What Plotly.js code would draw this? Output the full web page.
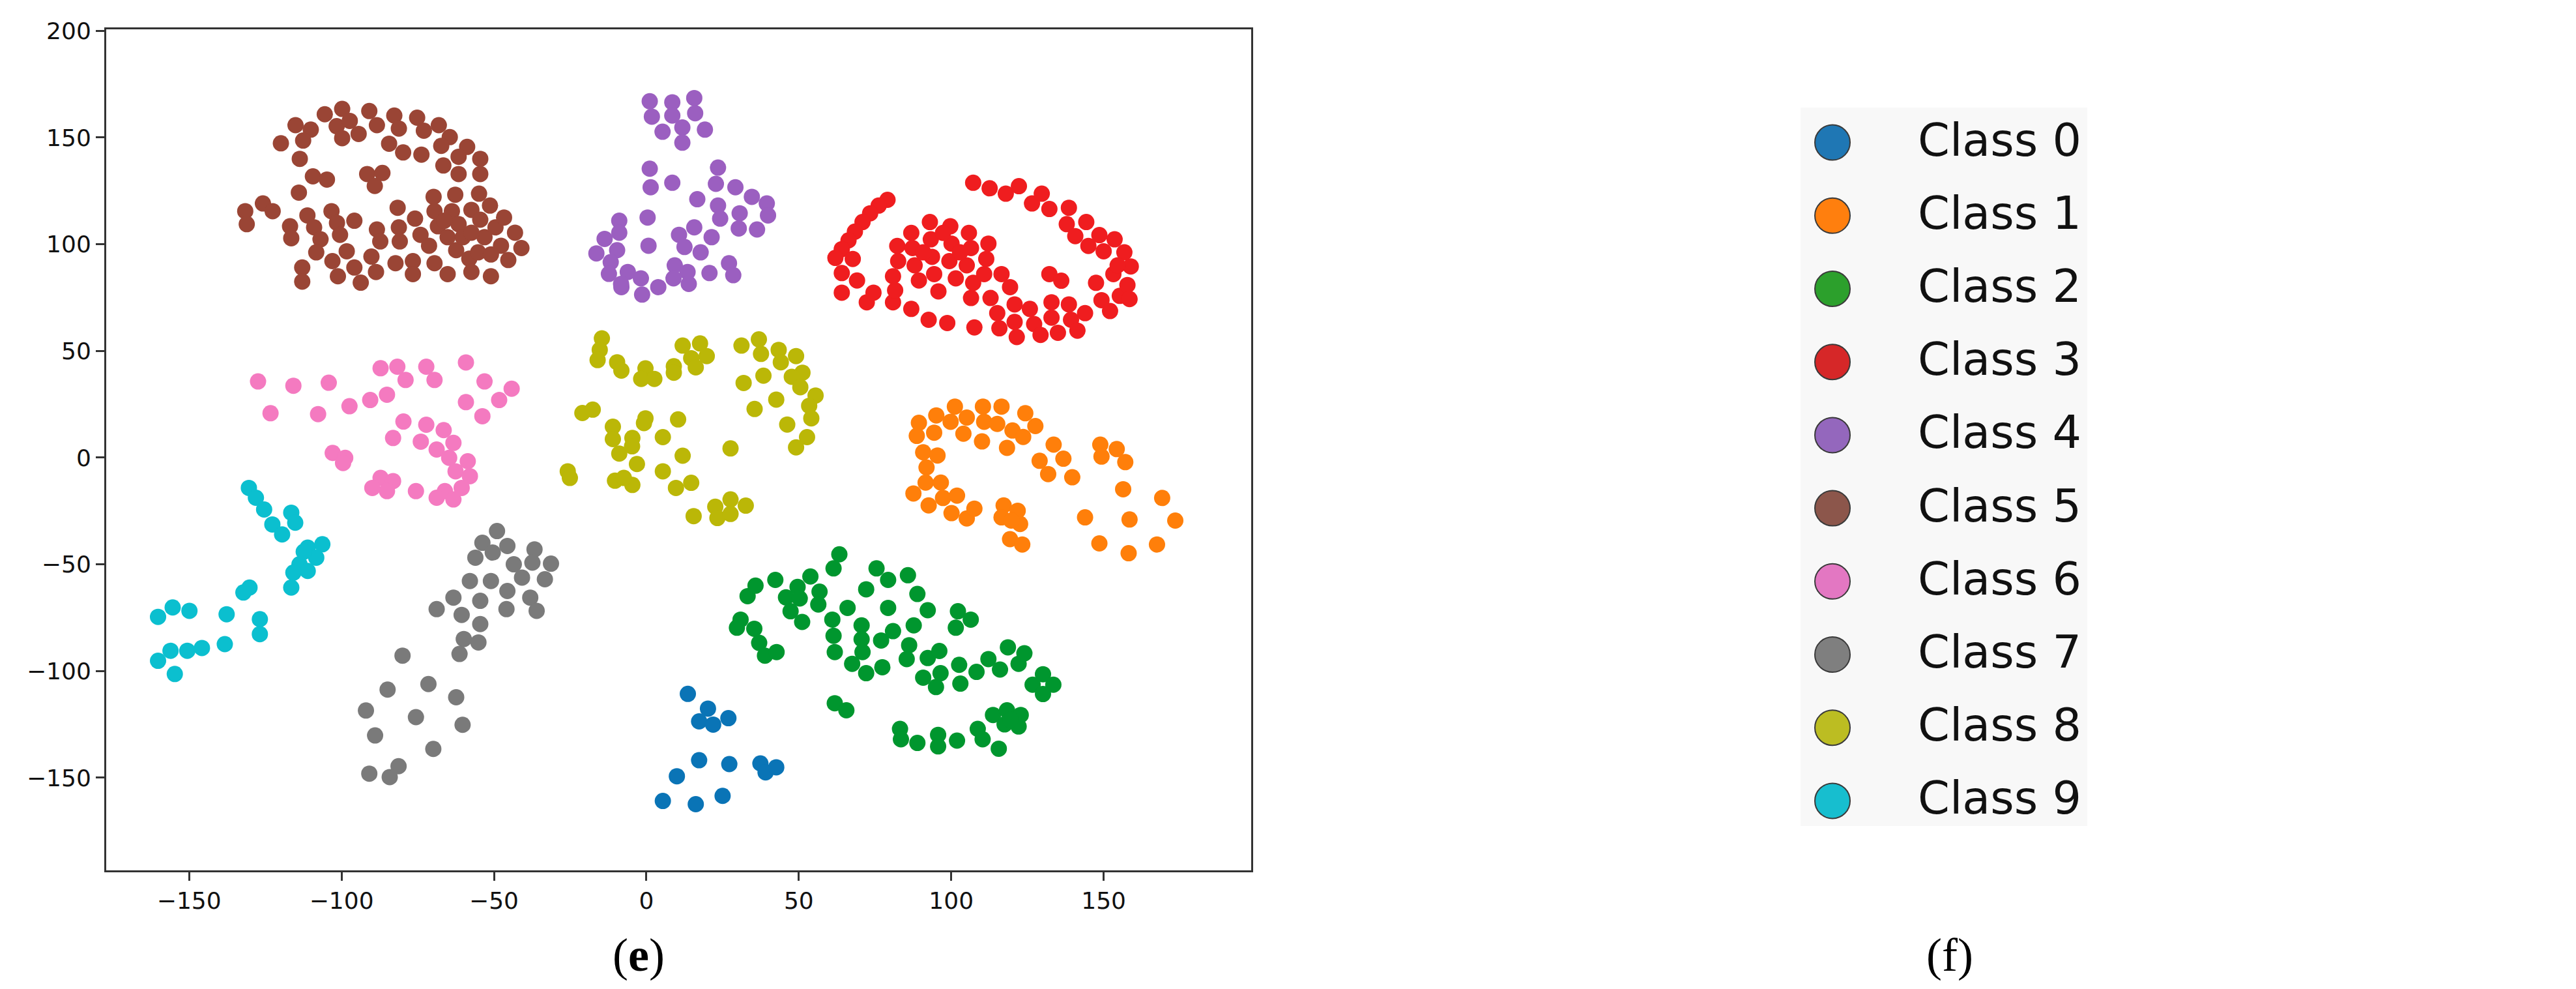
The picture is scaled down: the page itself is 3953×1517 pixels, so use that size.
<!DOCTYPE html>
<html><head><meta charset="utf-8">
<script src="https://cdn.plot.ly/plotly-3.0.1.min.js"></script>
<style>html,body{margin:0;padding:0;background:#fff;} #chart{width:3953px;height:1517px;}</style>
</head><body><div id="chart"></div>
<script>
const classNames = ['Class 0','Class 1','Class 2','Class 3','Class 4','Class 5','Class 6','Class 7','Class 8','Class 9'];
const xTicks = [-150,-100,-50,0,50,100,150];
const yTicks = [-150,-100,-50,0,50,100,150,200];
const panelLabels = ['(<b>e</b>)','(f)'];

const class0 = [[13.6,-110.7],[20.2,-117.6],[17.3,-123.6],[21.9,-125.1],[26.9,-122.1],[17.3,-141.8],[27.2,-143.6],[10.0,-149.3],[5.4,-160.9],[16.2,-162.4],[25.0,-158.5],[37.4,-143.3],[39.1,-147.5],[42.6,-145.1]];
const class1 = [[89.4,16.3],[88.7,10.2],[95.1,19.8],[94.4,11.7],[101.2,23.9],[99.8,16.8],[104.0,11.2],[105.1,18.8],[110.4,23.9],[110.8,16.8],[110.1,7.6],[116.5,23.9],[115.1,15.8],[118.3,4.6],[120.1,12.7],[124.3,20.8],[123.6,9.7],[127.6,14.8],[90.8,2.5],[95.5,1.0],[91.9,-4.6],[87.6,-16.8],[91.6,-11.7],[92.6,-22.4],[96.6,-11.7],[97.3,-18.9],[101.9,-17.8],[100.1,-26.0],[105.1,-28.5],[107.6,-23.9],[117.2,-22.4],[116.5,-28.0],[121.8,-24.9],[122.6,-31.1],[119.3,-38.2],[123.3,-40.7],[119.7,-29.5],[133.6,6.1],[129.0,-1.5],[131.8,-7.7],[136.8,-0.5],[139.7,-9.2],[148.9,6.1],[149.3,0.5],[154.3,4.0],[157.1,-2.1],[156.4,-14.8],[169.2,-18.9],[143.9,-28.0],[158.5,-29.0],[173.5,-29.5],[148.6,-40.2],[158.2,-44.8],[167.5,-40.7]];
const class2 = [[63.3,-45.3],[61.4,-51.9],[33.2,-64.9],[35.8,-60.0],[42.3,-57.3],[45.8,-65.5],[49.6,-60.6],[53.8,-55.7],[50.3,-66.0],[56.8,-62.8],[56.4,-68.8],[47.3,-72.0],[51.1,-77.0],[30.9,-75.9],[29.7,-79.7],[35.4,-80.2],[37.0,-86.8],[38.9,-92.8],[42.7,-91.1],[61.0,-75.9],[61.4,-83.5],[61.8,-91.1],[66.0,-70.4],[72.1,-61.7],[75.5,-51.9],[79.3,-57.3],[85.8,-55.1],[88.9,-63.9],[92.3,-71.5],[79.3,-70.4],[70.6,-78.6],[70.6,-85.1],[70.9,-91.1],[67.5,-96.6],[72.1,-101.0],[77.4,-98.2],[77.0,-85.7],[80.9,-81.3],[87.7,-78.6],[86.2,-87.9],[85.4,-94.4],[92.3,-93.9],[96.1,-90.6],[90.8,-103.1],[95.0,-107.5],[96.5,-101.0],[102.6,-97.1],[103.0,-105.9],[108.3,-100.4],[112.2,-94.4],[116.0,-99.3],[118.6,-88.9],[122.1,-96.6],[124.0,-91.7],[102.2,-72.0],[106.4,-75.9],[101.5,-79.7],[126.7,-106.4],[130.1,-101.5],[133.5,-106.4],[130.1,-110.8],[61.8,-115.1],[65.6,-118.4],[83.2,-127.1],[83.5,-132.0],[88.9,-133.7],[95.7,-129.9],[95.7,-135.3],[101.9,-132.6],[108.7,-127.1],[110.3,-132.0],[115.6,-136.4],[113.7,-120.6],[118.3,-118.4],[117.5,-125.0],[122.8,-120.6],[122.1,-126.0],[119.4,-122.8]];
const class3 = [[79.1,120.8],[76.2,118.1],[73.4,114.5],[70.9,110.4],[68.4,105.9],[66.3,101.8],[64.1,97.7],[62.0,93.6],[67.7,93.1],[64.1,86.5],[64.1,77.3],[69.1,83.0],[72.3,72.8],[74.5,77.3],[80.9,72.8],[86.9,69.7],[92.6,64.6],[98.7,63.1],[107.6,61.0],[82.3,99.2],[82.6,92.1],[80.9,85.0],[81.6,78.4],[86.9,105.3],[87.3,98.2],[88.0,90.1],[89.4,83.0],[93.0,110.4],[93.3,102.3],[93.7,94.1],[94.4,86.0],[95.8,77.9],[99.7,108.4],[100.1,100.3],[99.4,92.1],[101.5,84.0],[105.8,105.3],[106.5,98.2],[105.1,90.1],[107.2,81.9],[106.5,74.8],[112.2,100.3],[111.5,93.1],[110.8,86.0],[116.5,86.0],[97.3,105.3],[90.8,96.2],[102.9,96.2],[112.9,74.8],[115.1,67.7],[115.8,60.6],[119.3,79.9],[120.8,71.8],[120.8,63.6],[121.5,56.5],[125.8,69.7],[127.2,62.6],[129.3,57.5],[132.9,72.8],[132.9,65.6],[135.0,58.5],[138.6,71.8],[139.3,64.6],[141.4,59.5],[143.9,67.7],[147.5,81.9],[149.3,73.8],[152.1,68.7],[153.2,86.0],[155.3,75.8],[157.8,80.9],[158.5,74.3],[132.2,86.0],[136.1,82.9],[107.2,128.8],[112.6,126.2],[117.9,123.7],[122.2,127.2],[126.5,119.1],[129.7,123.7],[132.2,116.5],[138.6,117.1],[137.9,109.4],[140.7,103.8],[144.3,110.4],[145.0,99.2],[148.6,104.3],[150.0,96.7],[153.6,102.3],[156.8,96.2],[158.9,89.6],[154.6,90.1]];
const class4 = [[1.1,167.0],[1.8,159.8],[5.3,152.7],[8.5,166.5],[8.5,160.3],[11.8,154.7],[11.8,147.6],[15.7,168.5],[16.0,161.4],[19.2,153.7],[1.1,135.4],[1.4,126.7],[8.5,128.8],[23.5,135.9],[22.8,128.3],[29.2,126.7],[34.6,122.2],[39.5,119.1],[39.9,113.5],[16.7,121.1],[23.5,118.1],[24.2,112.0],[30.6,114.5],[30.3,107.4],[36.3,106.9],[0.4,112.5],[-8.9,111.0],[-8.9,105.4],[-9.6,97.2],[0.7,99.3],[10.7,104.4],[15.7,107.9],[21.4,103.3],[12.5,98.7],[17.8,96.2],[9.3,90.1],[13.5,87.0],[20.7,86.5],[27.1,91.1],[28.5,85.5],[-6.1,87.0],[-8.2,79.9],[-1.8,84.0],[-1.4,76.4],[3.9,79.9],[8.9,84.0],[13.9,81.4],[-13.7,102.5],[-16.4,95.7],[-11.7,91.6],[-12.3,86.1],[-8.3,81.4]];
const class5 = [[-119.9,147.3],[-115.1,155.8],[-110.1,153.7],[-112.6,148.6],[-105.5,160.9],[-99.8,163.4],[-101.6,155.3],[-97.3,157.8],[-99.8,149.7],[-94.4,151.7],[-90.9,162.4],[-88.4,155.8],[-82.7,160.3],[-81.2,154.2],[-84.4,147.1],[-79.8,143.0],[-75.2,159.3],[-73.0,153.2],[-73.8,142.0],[-68.1,155.8],[-64.5,150.2],[-67.3,146.1],[-66.6,136.9],[-58.8,145.6],[-61.6,141.0],[-61.6,132.9],[-54.5,140.0],[-54.5,132.9],[-113.7,140.0],[-109.4,131.8],[-104.8,130.3],[-114.0,124.2],[-91.6,132.9],[-86.6,133.4],[-89.1,127.3],[-131.6,115.5],[-131.1,109.4],[-125.8,119.1],[-122.6,115.5],[-116.9,108.4],[-116.5,102.8],[-111.2,113.5],[-109.0,107.9],[-106.9,102.3],[-108.3,96.2],[-103.3,115.5],[-101.5,110.0],[-100.5,104.4],[-98.3,96.7],[-95.8,111.0],[-103.0,92.1],[-101.2,85.0],[-95.8,89.1],[-93.7,82.0],[-90.2,94.2],[-88.4,106.9],[-87.3,101.3],[-88.7,87.0],[-81.6,117.1],[-81.2,107.9],[-80.9,101.3],[-82.3,91.1],[-76.6,92.1],[-76.6,86.0],[-75.9,112.0],[-74.1,104.4],[-71.3,99.3],[-69.8,122.2],[-69.5,115.5],[-68.4,108.4],[-69.5,91.1],[-65.2,103.3],[-65.2,86.0],[-62.7,123.2],[-63.8,115.5],[-61.6,109.4],[-62.4,97.2],[-60.2,103.3],[-58.1,93.2],[-57.4,87.0],[-57.4,116.1],[-54.9,123.7],[-54.5,111.5],[-53.1,103.3],[-51.3,118.1],[-51.0,85.0],[-49.5,107.9],[-47.7,99.3],[-46.7,112.5],[-45.3,92.6],[-43.1,105.4],[-41.0,98.2],[-57.4,105.4],[-55.2,96.2],[-112.9,89.1],[-112.9,82.5],[-66.3,111.0],[-51.0,95.2]];
const class6 = [[-127.4,35.7],[-115.8,33.7],[-104.2,35.1],[-123.3,20.8],[-107.7,20.4],[-97.4,24.1],[-90.6,27.0],[-85.1,29.5],[-87.2,41.9],[-81.7,42.6],[-79.0,36.4],[-72.2,42.6],[-69.5,36.4],[-59.2,44.6],[-53.1,35.7],[-44.2,32.3],[-48.3,27.0],[-59.2,26.0],[-53.8,19.4],[-79.7,16.9],[-72.2,15.4],[-66.5,12.9],[-83.1,9.2],[-74.0,7.5],[-68.8,3.8],[-63.3,6.9],[-64.7,-0.1],[-58.6,-1.7],[-62.6,-6.4],[-57.9,-8.7],[-60.6,-14.2],[-66.1,-15.7],[-68.8,-18.8],[-63.3,-19.6],[-75.6,-15.7],[-87.2,-9.5],[-83.1,-11.0],[-89.9,-14.2],[-85.1,-15.7],[-102.9,2.2],[-98.8,-0.1],[-99.5,-2.5]];
const class7 = [[-49.0,-34.4],[-53.8,-39.9],[-45.6,-41.4],[-50.4,-44.5],[-56.1,-46.9],[-43.5,-50.0],[-36.7,-43.0],[-37.4,-49.2],[-31.3,-49.7],[-40.8,-56.2],[-33.3,-57.0],[-57.9,-57.8],[-51.0,-57.8],[-45.6,-62.5],[-38.1,-65.6],[-36.0,-71.8],[-63.3,-65.6],[-54.5,-67.1],[-45.9,-71.0],[-68.8,-71.0],[-60.6,-73.7],[-54.5,-78.0],[-59.9,-85.0],[-55.1,-86.6],[-61.3,-92.0],[-80.0,-92.8],[-71.5,-106.1],[-84.9,-108.7],[-62.4,-112.3],[-92.0,-118.5],[-75.6,-121.6],[-60.3,-125.2],[-89.0,-130.2],[-69.9,-136.5],[-81.3,-144.6],[-90.9,-148.1],[-84.2,-149.7]];
const class8 = [[-14.6,55.9],[-15.3,50.5],[-16.0,45.7],[-9.6,44.7],[-8.2,40.8],[-0.3,41.8],[-1.7,36.9],[2.6,36.9],[9.0,42.8],[9.0,39.8],[11.9,52.5],[17.6,53.5],[14.7,46.6],[19.8,47.6],[16.2,42.3],[31.2,52.5],[36.9,55.4],[37.6,48.6],[43.4,50.5],[49.1,47.6],[44.1,44.7],[51.2,39.8],[47.7,37.9],[31.9,35.0],[38.4,38.4],[50.5,33.0],[55.5,29.1],[53.4,24.3],[54.1,18.4],[42.6,27.2],[35.5,22.8],[46.2,15.5],[52.7,9.6],[49.1,4.8],[27.6,4.3],[-0.3,18.4],[10.4,17.9],[-11.0,14.5],[-4.6,9.2],[5.4,9.6],[-11.0,8.7],[-8.9,1.9],[-3.1,-3.0],[5.4,-6.4],[11.9,0.9],[-10.3,-10.8],[-4.6,-12.8],[9.7,-14.2],[14.7,-11.8],[15.5,-27.4],[22.6,-23.0],[23.3,-28.3],[27.6,-19.6],[27.6,-26.4],[32.6,-22.5],[-25.8,-6.4],[-25.1,-9.5],[-21.0,20.9],[-17.6,22.5],[-4.7,5.3],[-7.4,-9.5],[-0.8,16.2]];
const class9 = [[-130.4,-14.2],[-128.1,-18.8],[-125.4,-24.3],[-122.7,-31.3],[-119.5,-36.0],[-116.5,-25.8],[-115.2,-30.5],[-111.1,-42.2],[-106.3,-40.6],[-108.3,-46.9],[-113.8,-50.0],[-111.1,-53.1],[-115.8,-53.9],[-116.5,-60.9],[-112.4,-44.1],[-130.2,-60.9],[-132.2,-63.2],[-137.7,-73.4],[-126.8,-75.7],[-126.8,-82.7],[-138.3,-87.4],[-149.9,-71.8],[-155.4,-70.2],[-160.2,-74.6],[-160.2,-95.2],[-156.1,-90.5],[-150.6,-90.5],[-145.8,-89.2],[-154.7,-101.4]];

const classPoints = [class0,class1,class2,class3,class4,class5,class6,class7,class8,class9];
const pointColors = ['#0a74b6','#ff7f0a','#00962e','#ef1d1f','#9b5fc0','#9a4535','#f47ac0','#7a7a7a','#bbb707','#0bbfcf'];
const legendColors = ['#1f77b4','#ff7f0e','#2ca02c','#d62728','#9467bd','#8c564b','#e377c2','#7f7f7f','#bcbd22','#17becf'];

const traces = classPoints.map((pts, i) => ({
  type: 'scatter', mode: 'markers', xaxis: 'x', yaxis: 'y',
  x: pts.map(p => p[0]), y: pts.map(p => p[1]),
  marker: {size: 25, color: pointColors[i], line: {width: 0}},
  name: classNames[i], showlegend: false, hoverinfo: 'skip'
}));
traces.push({
  type: 'scatter', mode: 'markers', xaxis: 'x2', yaxis: 'y2',
  x: classNames.map(() => 0), y: classNames.map((_, i) => i),
  marker: {size: 54, color: legendColors, line: {color: '#3a3a3a', width: 2}},
  showlegend: false, hoverinfo: 'skip'
});

const annotations = classNames.map((n, i) => ({
  xref: 'x2', yref: 'y2', x: 0, y: i, xshift: 129, yshift: 4,
  xanchor: 'left', yanchor: 'middle', showarrow: false, text: n,
  font: {family: 'DejaVu Sans', size: 70, color: '#111'}
}));
annotations.push({xref:'paper', yref:'paper', x: 0.2479, y: 0.0343, xanchor:'center', yanchor:'middle', showarrow:false, text: panelLabels[0], font:{family:'Liberation Serif', size:72, color:'#000'}});
annotations.push({xref:'paper', yref:'paper', x: 0.7569, y: 0.0343, xanchor:'center', yanchor:'middle', showarrow:false, text: panelLabels[1], font:{family:'Liberation Serif', size:72, color:'#000'}});

const axisCommon = {
  ticks: 'outside', ticklen: 13, tickwidth: 3, tickcolor: '#333',
  showline: true, linecolor: '#333', linewidth: 3, mirror: true,
  showgrid: false, zeroline: false,
  tickfont: {family: 'DejaVu Sans', size: 36, color: '#111'}
};

const layout = {
  width: 3953, height: 1517,
  margin: {l: 0, r: 0, t: 0, b: 0},
  paper_bgcolor: '#fff', plot_bgcolor: '#fff',
  showlegend: false,
  xaxis: Object.assign({}, axisCommon, {domain: [0.041235, 0.485707], range: [-177.2, 198.4], tickmode: 'array', tickvals: xTicks, anchor: 'y'}),
  yaxis: Object.assign({}, axisCommon, {domain: [0.11998, 0.970336], range: [-193.4, 200.7], tickmode: 'array', tickvals: yTicks, anchor: 'x'}),
  xaxis2: {domain: [0.68303, 0.83481], range: [-112, 488], visible: false, anchor: 'y2', fixedrange: true},
  yaxis2: {domain: [0, 1], range: [11.572, -1.948], visible: false, anchor: 'x2', fixedrange: true},
  shapes: [{type: 'rect', xref: 'paper', yref: 'paper', x0: 0.69896, x1: 0.81027, y0: 0.1648, y1: 0.89123, fillcolor: '#f8f8f8', line: {width: 0}, layer: 'below'}],
  annotations: annotations
};

Plotly.newPlot('chart', traces, layout, {staticPlot: true, displayModeBar: false});
</script>
</body></html>
